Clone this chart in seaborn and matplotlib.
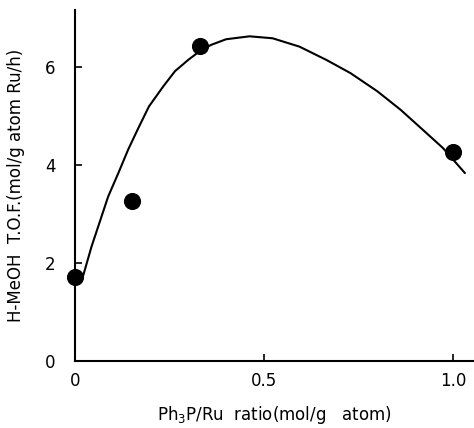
import matplotlib
matplotlib.use("Agg")
import matplotlib.pyplot as plt
import seaborn as sns

# measured points
ratio = [0.0, 0.15, 0.33, 1.0]
tof = [1.7, 3.25, 6.42, 4.25]

# hand-drawn trend curve
curve_x = [0.0, 0.013, 0.022, 0.044, 0.066, 0.088, 0.115, 0.141, 0.168, 0.196,
           0.234, 0.265, 0.30, 0.336, 0.362, 0.40, 0.462, 0.523, 0.594, 0.665,
           0.729, 0.80, 0.862, 0.921, 0.974, 1.032]
curve_y = [1.68, 1.64, 1.74, 2.33, 2.84, 3.35, 3.83, 4.31, 4.75, 5.19,
           5.60, 5.91, 6.14, 6.35, 6.45, 6.56, 6.62, 6.58, 6.41, 6.14,
           5.87, 5.50, 5.12, 4.71, 4.34, 3.83]

x_ticks = [0, 0.5, 1.0]
x_ticklabels = ["0", "0.5", "1.0"]
y_ticks = [0, 2, 4, 6]

sns.set_style("ticks")
plt.rcParams['font.family'] = ['DejaVu Sans']

fig = plt.figure(figsize=(4.74, 4.28), dpi=100)
ax = fig.add_axes([0.158, 0.157, 0.842, 0.82])

sns.lineplot(x=curve_x, y=curve_y, sort=False, color="black", linewidth=1.5, ax=ax)
sns.scatterplot(x=ratio, y=tof, color="black", s=130, edgecolor="black", zorder=3,
                clip_on=False, ax=ax)

ax.set_xlim(0, 1.056)
ax.set_ylim(0, 7.16)
ax.set_xticks(x_ticks)
ax.set_xticklabels(x_ticklabels)
ax.set_yticks(y_ticks)
ax.tick_params(direction="in", length=5, width=1.2, labelsize=12, colors="black")
ax.tick_params(axis="y", pad=14)
ax.tick_params(axis="x", pad=8)
for s in ["top", "right"]:
    ax.spines[s].set_visible(False)
for s in ["left", "bottom"]:
    ax.spines[s].set_linewidth(1.5)
    ax.spines[s].set_color("black")

ax.set_xlabel("Ph$_3$P/Ru  ratio(mol/g   atom)", fontsize=12, labelpad=10, color="black")
ax.set_ylabel("H-MeOH  T.O.F.(mol/g atom Ru/h)", fontsize=12, labelpad=14, color="black")

plt.savefig("out.png", dpi=100)
